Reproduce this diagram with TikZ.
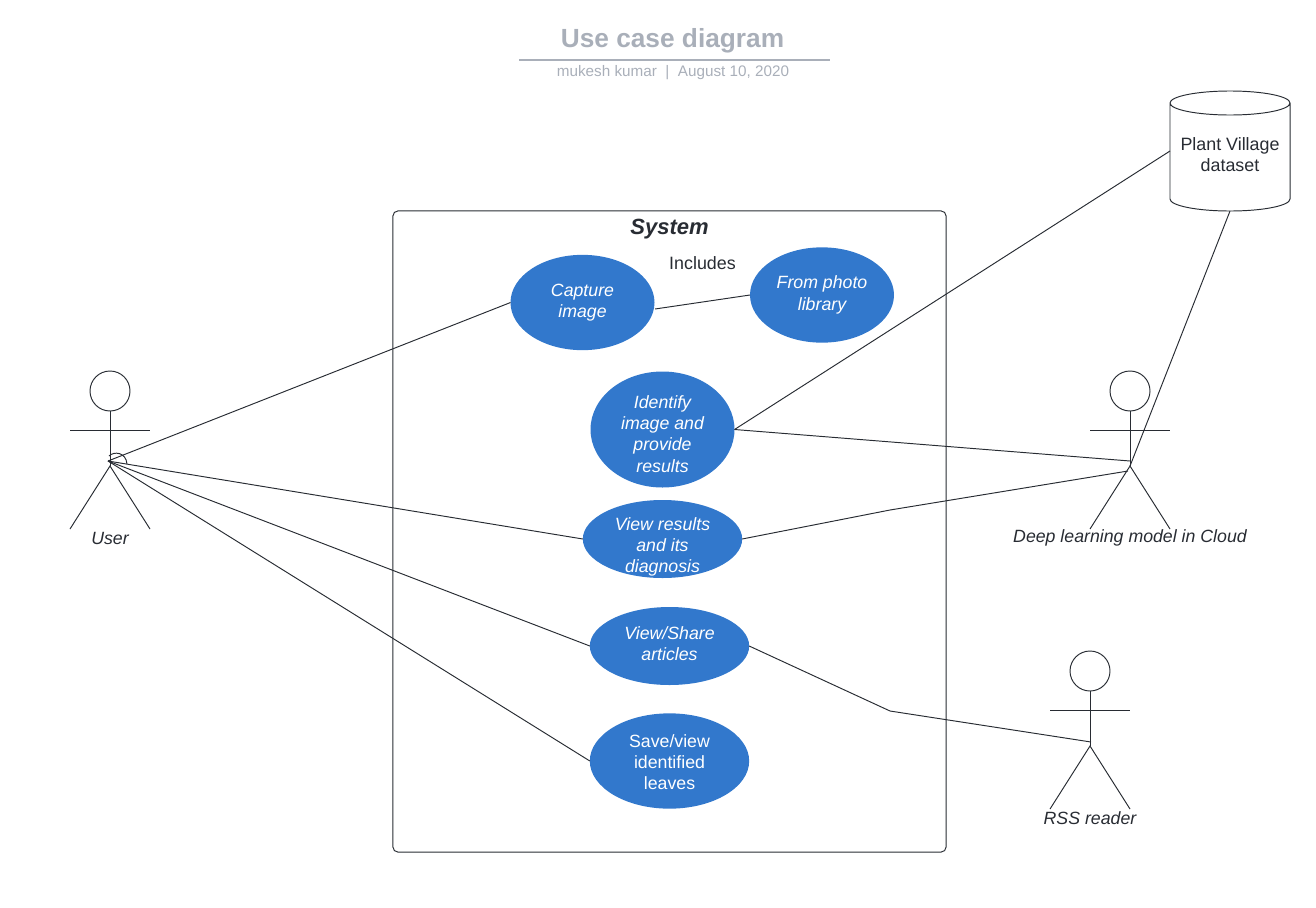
\documentclass[tikz,border=0pt]{standalone}
\usepackage{fontspec}
\setmainfont{Liberation Sans}
\usetikzlibrary{shapes.geometric}
\definecolor{ucblue}{HTML}{3278CC}
\definecolor{ttlgray}{HTML}{A9AFB9}
\definecolor{inkdark}{HTML}{282C33}
\tikzset{
  x=0.75pt,y=-0.75pt,
  edge/.style={draw=inkdark,line width=0.72pt},
  usecase/.style={ellipse,fill=ucblue,draw=none,inner sep=0pt,outer sep=0pt},
  uctext/.style={text=white,align=center,inner sep=0pt,font=\fontsize{13.3}{15.9}\selectfont\itshape},
  uctextup/.style={uctext,font=\fontsize{13.3}{15.9}\selectfont},
  actorlabel/.style={text=inkdark,inner sep=0pt,font=\fontsize{13.3}{16}\selectfont\itshape},
  plainlabel/.style={text=inkdark,align=center,inner sep=0pt,font=\fontsize{13.4}{15.9}\selectfont},
}
\begin{document}
\begin{tikzpicture}
\useasboundingbox (0,0) rectangle (1316,907);
% title
\node[text=ttlgray,inner sep=0pt,font=\fontsize{19.7}{24}\selectfont\bfseries] (title) at (672.5,41) {Use case diagram};
\coordinate (ruleL) at (519,60);
\coordinate (ruleR) at (830,60);
\draw[ttlgray,line width=1.4pt] (ruleL) -- (ruleR);
\node[text=ttlgray,inner sep=0pt,font=\fontsize{11.45}{14}\selectfont] (subtitle) at (673,72.5) {mukesh kumar\ \ |\ \ August 10, 2020};
% system
\node[draw=inkdark,line width=0.72pt,rounded corners=4pt,minimum width=415pt,minimum height=481pt,inner sep=0pt] (system) at (669.5,531.5) {};
\node[text=inkdark,inner sep=0pt,font=\fontsize{16.5}{20}\selectfont\bfseries\itshape] (systemlabel) at (669.5,229) {System};
\node[plainlabel] (includes) at (702.5,263.5) {Includes};
% use cases
\node[usecase,minimum width=108pt,minimum height=71.5pt] (capture) at (582.5,302.5) {};
\node[usecase,minimum width=108pt,minimum height=71.5pt] (photo) at (822,295) {};
\node[usecase,minimum width=108pt,minimum height=87pt] (identify) at (662.5,429.5) {};
\node[usecase,minimum width=119.5pt,minimum height=58.5pt] (results) at (662.5,539) {};
\node[usecase,minimum width=119.5pt,minimum height=58.5pt] (share) at (669.5,646) {};
\node[usecase,minimum width=119.5pt,minimum height=71.5pt] (save) at (669.5,761) {};
\node[uctext] (capturet) at (582.5,302.5) {Capture\\image};
\node[uctext] (photot) at (822,295) {From photo\\library};
\node[uctext] (identifyt) at (662.5,434) {Identify\\image and\\provide\\results};
\node[uctext] (resultst) at (662.5,547) {View results\\and its\\diagnosis};
\node[uctext] (sharet) at (669.5,644) {View/Share\\articles};
\node[uctextup] (savet) at (669.5,762) {Save/view\\identified\\leaves};
% dataset
\node[minimum width=90pt,minimum height=90pt,inner sep=0pt,outer sep=0pt] (dataset) at (1230,151) {};
\node[plainlabel] (datasett) at (1230,155) {Plant Village\\dataset};
\draw[edge] (1170,103) arc[start angle=180,end angle=540,x radius=60,y radius=12]
  (1170,103) -- (1170,199) arc[start angle=180,end angle=0,x radius=60,y radius=12] -- (1290,103);
% actors
\foreach \nm/\cx/\cy in {user/110/391,deep/1130/391,rss/1090/671}{
  \node[circle,draw=inkdark,line width=0.72pt,minimum size=30pt,inner sep=0pt] (\nm head) at (\cx,\cy) {};
  \coordinate (\nm hip) at (\cx,\cy+75);
  \coordinate (\nm armL) at (\cx-40,\cy+39.5);
  \coordinate (\nm armR) at (\cx+40,\cy+39.5);
  \coordinate (\nm legL) at (\cx-40,\cy+138);
  \coordinate (\nm legR) at (\cx+40,\cy+138);
  \draw[edge] (\nm head.south) -- (\nm hip);
  \draw[edge] (\nm armL) -- (\nm armR);
  \draw[edge] (\nm legL) -- (\nm hip) -- (\nm legR);
}
\node[actorlabel] (userlabel) at (110,538) {User};
\node[actorlabel] (deeplabel) at (1130,538) {Deep learning model in Cloud};
\node[actorlabel] (rsslabel) at (1090,818) {RSS reader};
% connector ends
\coordinate (userport) at (108,461);
\coordinate (captureport) at (655,309);
\coordinate (deepportA) at (1130,461);
\coordinate (deepportB) at (1128,471);
\coordinate (deepportC) at (1130,466);
\coordinate (rssport) at (1091,742);
\coordinate (bendA) at (890,510);
\coordinate (bendB) at (890,711);
% connectors
\draw[edge] (userport) -- (capture.west);
\draw[edge] (userport) -- (results.west);
\draw[edge] (userport) -- (share.west);
\draw[edge] (userport) -- (save.west);
\draw[edge] (109,456) .. controls (114,451) and (126,452) .. (127,464);
\draw[edge] (captureport) -- (photo.west);
\draw[edge] (identify.east) -- (dataset.west);
\draw[edge] (identify.east) -- (deepportA);
\draw[edge] (dataset.south) -- (deepportC);
\draw[edge] (results.east) -- (bendA) -- (deepportB);
\draw[edge] (share.east) -- (bendB) -- (rssport);
\end{tikzpicture}
\end{document}
